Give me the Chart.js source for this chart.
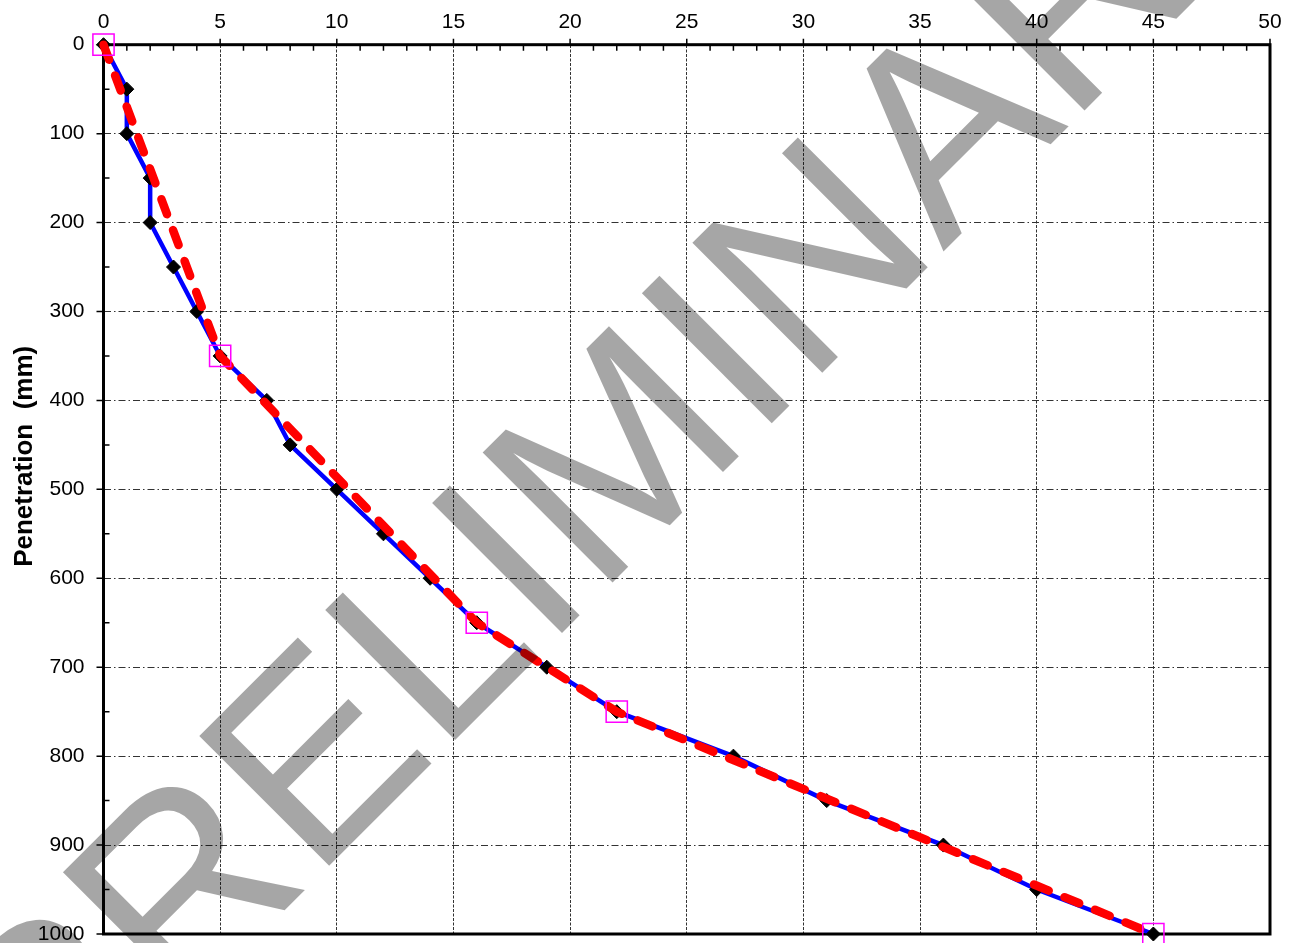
<!DOCTYPE html>
<html>
<head>
<meta charset="utf-8">
<script src="https://cdn.jsdelivr.net/npm/chart.js@4/dist/chart.umd.min.js"></script>
<style>
  html, body { margin: 0; padding: 0; background: #ffffff; }
  #wrap { width: 1297px; height: 943px; position: relative; }
</style>
</head>
<body>
<div id="wrap"><canvas id="c" width="1297" height="943"></canvas></div>
<script>
// ---- data ----
const blowsMeasured = [0, 1, 1, 2, 2, 3, 4, 5, 7, 8, 10, 12, 14, 16, 19, 22, 27, 31, 36, 40, 45];
const penetrationMeasured = [0, 50, 100, 150, 200, 250, 300, 350, 400, 450, 500, 550, 600, 650, 700, 750, 800, 850, 900, 950, 1000];
const blowsFit = [0, 5, 16, 22, 45];
const penetrationFit = [0, 350, 650, 750, 1000];
const xAxisRange = [0, 50];
const xAxisStep = 5;
const yAxisRange = [0, 1000];
const yAxisStep = 100;
const yAxisTitle = 'Penetration  (mm)';
const watermarkText = 'PRELIMINARY';

const toPoints = (xs, ys) => xs.map((v, i) => ({ x: v, y: ys[i] }));

const FONT = '"Liberation Sans", Arial, sans-serif';

const framePlugin = {
  id: 'frame',
  beforeDatasetsDraw(chart) {
    const { ctx, chartArea: a, scales: { x, y } } = chart;
    ctx.save();
    ctx.strokeStyle = '#000';
    ctx.lineWidth = 1.5;
    ctx.beginPath();
    for (let v = yAxisRange[0]; v <= yAxisRange[1]; v += yAxisStep) {
      const py = y.getPixelForValue(v);
      ctx.moveTo(a.left - 7, py); ctx.lineTo(a.left, py);
    }
    for (let v = yAxisRange[0] + yAxisStep / 2; v < yAxisRange[1]; v += yAxisStep) {
      const py = y.getPixelForValue(v);
      ctx.moveTo(a.left, py); ctx.lineTo(a.left + 6, py);
    }
    for (let v = xAxisRange[0]; v <= xAxisRange[1]; v += xAxisStep) {
      const px = x.getPixelForValue(v);
      ctx.moveTo(px, a.top - 6); ctx.lineTo(px, a.top);
    }
    for (let v = xAxisRange[0] + 1; v < xAxisRange[1]; v += 1) {
      if (v % xAxisStep === 0) continue;
      const px = x.getPixelForValue(v);
      ctx.moveTo(px, a.top); ctx.lineTo(px, a.top + 6);
    }
    ctx.stroke();
    ctx.lineWidth = 3;
    ctx.strokeRect(a.left, a.top, a.right - a.left, a.bottom - a.top);
    ctx.restore();
  },
  afterDraw(chart) {
    const { ctx } = chart;
    // y axis title
    ctx.save();
    ctx.translate(31.7, 456.3);
    ctx.rotate(-Math.PI / 2);
    ctx.font = 'bold 26px ' + FONT;
    ctx.fillStyle = '#000';
    ctx.textAlign = 'center';
    ctx.textBaseline = 'alphabetic';
    ctx.fillText(yAxisTitle, 0, 0);
    ctx.restore();
    // watermark
    ctx.save();
    ctx.translate(51.4, 1143.6);
    ctx.rotate(-Math.PI / 4);
    ctx.font = '267px ' + FONT;
    ctx.fillStyle = 'rgba(0,0,0,0.35)';
    ctx.textAlign = 'left';
    ctx.textBaseline = 'alphabetic';
    ctx.fillText(watermarkText, 0, 0);
    ctx.restore();
  }
};

new Chart(document.getElementById('c'), {
  type: 'line',
  data: {
    datasets: [
      {
        label: 'Measured',
        data: toPoints(blowsMeasured, penetrationMeasured),
        borderColor: '#0000ff',
        borderWidth: 4.5,
        tension: 0,
        fill: false,
        pointStyle: 'rectRot',
        pointRadius: 7,
        pointBackgroundColor: '#000',
        pointBorderColor: '#000',
        pointBorderWidth: 1,
        clip: false,
        order: 2
      },
      {
        label: 'Fit',
        data: toPoints(blowsFit, penetrationFit),
        borderColor: '#ff0000',
        borderWidth: 8.5,
        borderDash: [16, 17],
        borderCapStyle: 'round',
        tension: 0,
        fill: false,
        pointStyle: 'rect',
        pointRadius: 15,
        pointBackgroundColor: 'rgba(0,0,0,0)',
        pointBorderColor: '#ff00ff',
        pointBorderWidth: 1.5,
        clip: false,
        order: 1
      }
    ]
  },
  options: {
    responsive: false,
    devicePixelRatio: 1,
    animation: false,
    events: [],
    layout: { autoPadding: false, padding: { left: 0, top: 0, right: 27, bottom: 9 } },
    plugins: { legend: { display: false }, tooltip: { enabled: false }, title: { display: false } },
    scales: {
      x: {
        type: 'linear',
        position: 'top',
        min: xAxisRange[0],
        max: xAxisRange[1],
        ticks: { stepSize: xAxisStep, padding: 10, color: '#000', font: { family: FONT, size: 21 }, maxRotation: 0,
                 callback: v => String(v) },
        grid: { color: '#333', lineWidth: 1, drawTicks: false },
        border: { display: false, dash: [3, 1.5] },
        afterFit(s) { s.height = 44.7; s.paddingLeft = 0; s.paddingRight = 0; }
      },
      y: {
        type: 'linear',
        position: 'left',
        reverse: true,
        min: yAxisRange[0],
        max: yAxisRange[1],
        ticks: { stepSize: yAxisStep, padding: 19, color: '#000', font: { family: FONT, size: 21 },
                 callback: v => String(v) },
        grid: { color: '#333', lineWidth: 1, drawTicks: false },
        border: { display: false, dash: [7, 3, 1.5, 3] },
        afterFit(s) { s.width = 103.5; s.paddingTop = 0; s.paddingBottom = 0; }
      }
    }
  },
  plugins: [framePlugin]
});
</script>
</body>
</html>
